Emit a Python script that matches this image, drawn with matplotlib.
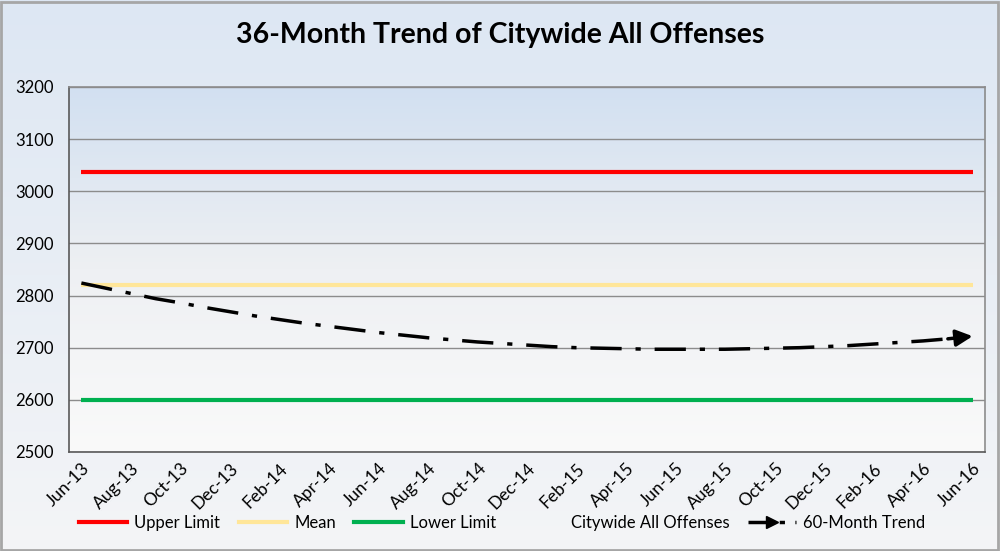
import matplotlib
matplotlib.use("Agg")
import matplotlib.pyplot as plt
import numpy as np
from matplotlib.lines import Line2D
from matplotlib.patches import Rectangle
from matplotlib.colors import LinearSegmentedColormap

plt.rcParams['font.family'] = ['Lato', 'DejaVu Sans']

# months Jun-13 .. Jun-16 (37 points)
months = ['Jun-13', 'Jul-13', 'Aug-13', 'Sep-13', 'Oct-13', 'Nov-13', 'Dec-13',
          'Jan-14', 'Feb-14', 'Mar-14', 'Apr-14', 'May-14', 'Jun-14', 'Jul-14',
          'Aug-14', 'Sep-14', 'Oct-14', 'Nov-14', 'Dec-14', 'Jan-15', 'Feb-15',
          'Mar-15', 'Apr-15', 'May-15', 'Jun-15', 'Jul-15', 'Aug-15', 'Sep-15',
          'Oct-15', 'Nov-15', 'Dec-15', 'Jan-16', 'Feb-16', 'Mar-16', 'Apr-16',
          'May-16', 'Jun-16']
upper_limit = 3037
mean_value = 2820
lower_limit = 2600
trend = [2824, 2814, 2804, 2794, 2786, 2777, 2769, 2761, 2754, 2747,
         2741, 2735, 2729, 2724, 2719, 2715, 2711, 2708, 2705, 2702,
         2700, 2699, 2698, 2697, 2697, 2697, 2697, 2698, 2699, 2700,
         2702, 2704, 2707, 2710, 2713, 2717, 2722]

x = np.arange(len(months))

fig = plt.figure(figsize=(10, 5.51), dpi=100)
fig.patch.set_facecolor('#eef2f7')

# figure background gradient
bg = fig.add_axes([0, 0, 1, 1], zorder=-10)
grad = np.linspace(0, 1, 256).reshape(-1, 1)
fig_cmap = LinearSegmentedColormap.from_list('figbg', ['#dde7f3', '#f4f5f7'])
bg.imshow(grad, aspect='auto', cmap=fig_cmap, extent=[0, 1, 0, 1])
bg.set_axis_off()
bg.add_patch(Rectangle((0.001, 0.002), 0.997, 0.995, transform=bg.transAxes,
                       fill=False, edgecolor='#a6a6a6', linewidth=2))

ax = fig.add_axes([0.069, 0.1797, 0.916, 0.6625])
ax_cmap = LinearSegmentedColormap.from_list('axbg', ['#d2e0f1', '#eef0f3', '#fafafa'])
ax.imshow(grad, aspect='auto', cmap=ax_cmap, extent=[-0.5, 36.5, 2500, 3200],
          zorder=0)

ax.plot(x, [upper_limit] * len(x), color='#ff0000', linewidth=3, zorder=3,
        solid_capstyle='butt')
ax.plot(x, [mean_value] * len(x), color='#ffe699', linewidth=3, zorder=3,
        solid_capstyle='butt')
ax.plot(x, [lower_limit] * len(x), color='#00b050', linewidth=3, zorder=3,
        solid_capstyle='butt')
ax.plot(x[:-1], trend[:-1], color='black', linewidth=2.5, zorder=4,
        dashes=(9, 4, 1.5, 4))
ax.annotate('', xy=(x[-1], trend[-1]), xytext=(x[-2], trend[-2]),
            arrowprops=dict(arrowstyle='-|>,head_length=1.0,head_width=0.5',
                            color='black', linewidth=2.5, shrinkA=0, shrinkB=0),
            zorder=5)

ax.set_xlim(-0.5, 36.5)
ax.set_ylim(2500, 3200)
ax.set_yticks(np.arange(2500, 3201, 100))
ax.yaxis.grid(True, color='#8c8c8c', linewidth=1)
for line in ax.get_ygridlines():
    line.set_zorder(1)
ax.set_xticks(x[::2])
ax.set_xticklabels(months[::2], rotation=45, ha='right', va='top',
                   rotation_mode='anchor', fontsize=12.5)
ax.tick_params(axis='y', labelsize=12, length=0, pad=11)
ax.tick_params(axis='x', length=0, pad=6)
for s in ax.spines.values():
    s.set_color('#8c8c8c')
    s.set_linewidth(1.2)
ax.spines['left'].set_color('#595959')
ax.spines['bottom'].set_color('#595959')

fig.text(0.5, 0.936, '36-Month Trend of Citywide All Offenses', ha='center',
         va='center', fontsize=20.5, fontweight='bold')

handles = [
    Line2D([], [], color='#ff0000', linewidth=3),
    Line2D([], [], color='#ffe699', linewidth=3),
    Line2D([], [], color='#00b050', linewidth=3),
    Line2D([], [], linestyle='none'),
    Line2D([], [], color='black', linewidth=2.5, dashes=(6, 3, 1.5, 3),
           marker='>', markersize=9, markevery=[1]),
]
labels = ['Upper Limit', 'Mean', 'Lower Limit', 'Citywide All Offenses',
          '60-Month Trend']
fig.legend(handles, labels, loc='center', bbox_to_anchor=(0.502, 0.051), ncol=5,
           frameon=False, fontsize=12, handlelength=2.9, columnspacing=1.1,
           handletextpad=0.45)

fig.savefig('out.png', dpi=100)
